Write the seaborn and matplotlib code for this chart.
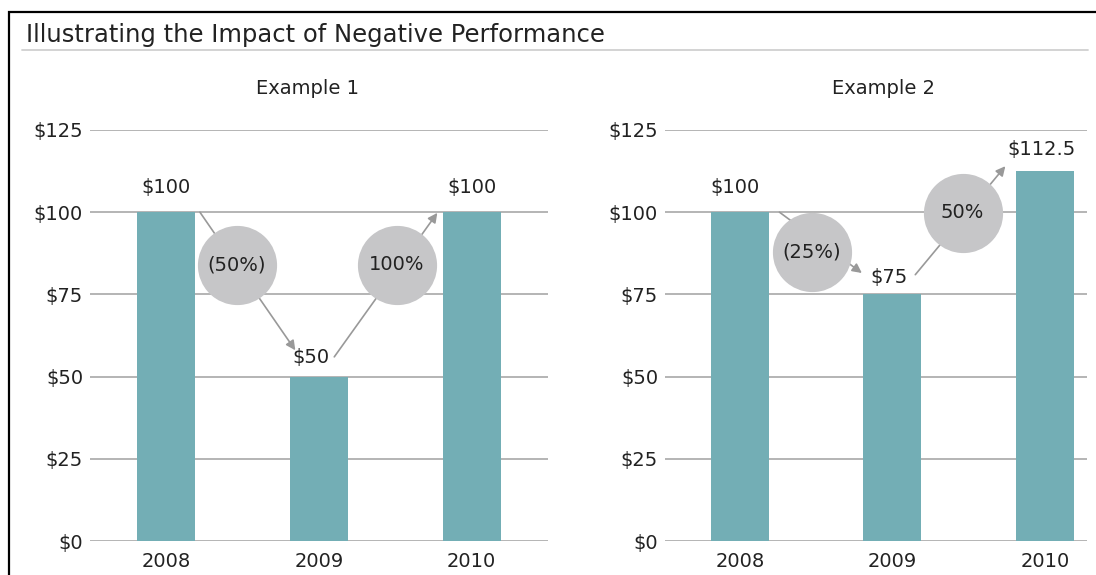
import numpy as np
import pandas as pd
import matplotlib
matplotlib.use("Agg")
import matplotlib.pyplot as plt
from matplotlib.patches import Rectangle
from matplotlib.lines import Line2D
import seaborn as sns

sns.set_theme(style="white")
plt.rcParams['font.family'] = ['DejaVu Sans']

years = ["2008", "2009", "2010"]
example1 = [100, 50, 100]
example2 = [100, 75, 112.5]
value_labels1 = ["$100", "$50", "$100"]
value_labels2 = ["$100", "$75", "$112.5"]
changes1 = ["(50%)", "100%"]
changes2 = ["(25%)", "50%"]
yticks = [0, 25, 50, 75, 100, 125]
ytick_labels = ["$0", "$25", "$50", "$75", "$100", "$125"]

BAR = "#73aeb5"
CIRCLE = "#c6c6c8"
ARROW = "#999999"
GRID = "#a0a0a0"
TXT = "#222222"
FS = 14

fig = plt.figure(figsize=(10.96, 5.75), dpi=100)

# frame + title rule
fig.patches.append(Rectangle((9 / 1096, -0.1), 1.2, 1 - 12 / 575 + 0.1,
                             transform=fig.transFigure, fill=False,
                             edgecolor="black", linewidth=1.6))
fig.lines.append(Line2D([22 / 1096, 1088 / 1096], [1 - 50 / 575] * 2,
                        transform=fig.transFigure, color="#d0d0d0", linewidth=1.3))
fig.text(26 / 1096, 1 - 35 / 575, "Illustrating the Impact of Negative Performance",
         fontsize=17.5, color=TXT, va="center", ha="left")


def draw_panel(ax, values, labels, changes, xlim, label_pos, arrows, circles):
    df = pd.DataFrame({"year": years, "value": values})
    sns.barplot(data=df, x="year", y="value", ax=ax, color=BAR, saturation=1,
                width=0.38, linewidth=0, zorder=3)
    ax.set_xlim(*xlim)
    ax.set_ylim(0, 125)
    ax.set_yticks(yticks)
    ax.set_yticklabels(ytick_labels)
    ax.grid(axis="y", color=GRID, linewidth=1.1, zorder=0)
    ax.grid(axis="x", visible=False)
    ax.set_axisbelow(True)
    for s in ax.spines.values():
        s.set_visible(False)
    ax.set_xlabel("")
    ax.set_ylabel("")
    ax.tick_params(axis="both", length=0, labelsize=FS, colors=TXT)
    ax.tick_params(axis="y", pad=5)
    ax.tick_params(axis="x", pad=8)
    for (x, y), lab in zip(label_pos, labels):
        ax.text(x, y, lab, ha="center", va="center", fontsize=FS, color=TXT, zorder=6)
    for (x0, y0, x1, y1) in arrows:
        ax.annotate("", xy=(x1, y1), xytext=(x0, y0), zorder=4,
                    arrowprops=dict(arrowstyle="-|>", color=ARROW, lw=1.2,
                                    mutation_scale=14, shrinkA=0, shrinkB=0))
    for (x, y), lab in zip(circles, changes):
        ax.plot(x, y, "o", markersize=56, color=CIRCLE, zorder=5, clip_on=False)
        ax.text(x, y, lab, ha="center", va="center", fontsize=FS, color=TXT, zorder=6)


ax1 = fig.add_axes([90 / 1096, 1 - 541 / 575, 458 / 1096, 411 / 575])
draw_panel(ax1, example1, value_labels1, changes1, (-0.5, 2.5),
           [(0, 107.4), (0.95, 55.7), (2, 107.4)],
           [(0.22, 100, 0.845, 58), (1.1, 56, 1.775, 99.8)],
           [(0.46, 84), (1.51, 84)])

ax2 = fig.add_axes([665 / 1096, 1 - 541 / 575, 422 / 1096, 411 / 575])
draw_panel(ax2, example2, value_labels2, changes2, (-0.49, 2.275),
           [(-0.03, 107.4), (0.98, 80), (1.98, 119)],
           [(0.26, 100, 0.8, 81.5), (1.15, 81, 1.74, 114)],
           [(0.47, 88), (1.46, 99.8)])

fig.text(308 / 1096, 1 - 88 / 575, "Example 1", fontsize=FS, color=TXT, ha="center", va="center")
fig.text(883 / 1096, 1 - 88 / 575, "Example 2", fontsize=FS, color=TXT, ha="center", va="center")

fig.savefig("out.png", dpi=100)
